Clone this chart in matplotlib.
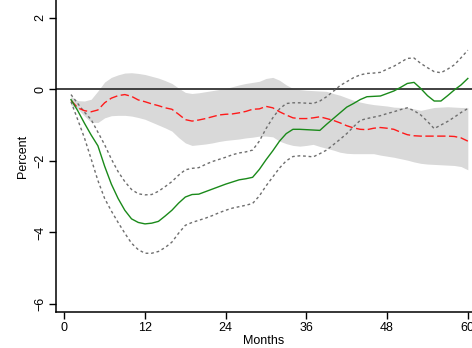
import numpy as np
import matplotlib
matplotlib.use("Agg")
import matplotlib.pyplot as plt

plt.rcParams['font.family'] = ['Liberation Sans', 'DejaVu Sans']

# horizon in months
months = np.arange(1, 61)

# grey band (bounds around the red response)
band_hi = [-0.20, -0.32, -0.33, -0.28, -0.05, 0.20, 0.33, 0.40, 0.45, 0.46,
           0.44, 0.41, 0.36, 0.31, 0.24, 0.16, 0.03, -0.09, -0.12, -0.10,
           -0.07, -0.04, -0.01, 0.02, 0.07, 0.12, 0.16, 0.19, 0.22, 0.30,
           0.33, 0.25, 0.12, 0.02, -0.01, -0.03, -0.04, -0.05, -0.06, -0.12,
           -0.17, -0.24, -0.31, -0.36, -0.40, -0.43, -0.45, -0.47, -0.50, -0.51,
           -0.51, -0.55, -0.59, -0.55, -0.51, -0.50, -0.49, -0.50, -0.51, -0.51]
band_lo = [-0.45, -0.55, -0.75, -0.92, -0.93, -0.80, -0.74, -0.73, -0.73, -0.75,
           -0.79, -0.84, -0.92, -1.00, -1.08, -1.17, -1.35, -1.50, -1.57, -1.55,
           -1.53, -1.50, -1.46, -1.43, -1.41, -1.39, -1.36, -1.34, -1.31, -1.31,
           -1.33, -1.45, -1.52, -1.57, -1.59, -1.57, -1.54, -1.60, -1.65, -1.70,
           -1.76, -1.79, -1.80, -1.80, -1.80, -1.80, -1.84, -1.87, -1.90, -1.94,
           -1.98, -2.03, -2.07, -2.09, -2.10, -2.11, -2.12, -2.13, -2.16, -2.25]

# red dashed response
red = [-0.31, -0.52, -0.60, -0.63, -0.58, -0.38, -0.25, -0.18, -0.15, -0.20,
       -0.30, -0.35, -0.41, -0.46, -0.52, -0.56, -0.70, -0.85, -0.89, -0.86,
       -0.82, -0.77, -0.72, -0.70, -0.69, -0.66, -0.62, -0.56, -0.55, -0.48,
       -0.52, -0.63, -0.72, -0.80, -0.82, -0.82, -0.80, -0.77, -0.82, -0.87,
       -0.94, -1.02, -1.08, -1.12, -1.13, -1.09, -1.07, -1.09, -1.12, -1.20,
       -1.27, -1.30, -1.31, -1.31, -1.31, -1.31, -1.31, -1.32, -1.36, -1.45]

# green response with its dotted bounds
green = [-0.29, -0.60, -0.95, -1.28, -1.58, -2.15, -2.65, -3.05, -3.38, -3.62,
         -3.72, -3.76, -3.74, -3.69, -3.54, -3.38, -3.18, -3.01, -2.94, -2.93,
         -2.86, -2.79, -2.72, -2.65, -2.59, -2.53, -2.50, -2.46, -2.24, -1.97,
         -1.72, -1.45, -1.24, -1.12, -1.12, -1.13, -1.14, -1.15, -0.98, -0.82,
         -0.66, -0.50, -0.40, -0.29, -0.21, -0.20, -0.19, -0.12, -0.05, 0.05,
         0.16, 0.19, 0.02, -0.18, -0.33, -0.33, -0.18, -0.02, 0.12, 0.30]
green_hi = [-0.15, -0.40, -0.64, -0.85, -1.20, -1.55, -1.95, -2.30, -2.58, -2.80,
            -2.92, -2.95, -2.94, -2.85, -2.72, -2.58, -2.40, -2.25, -2.21, -2.19,
            -2.10, -2.02, -1.96, -1.90, -1.83, -1.78, -1.75, -1.70, -1.45, -1.10,
            -0.80, -0.55, -0.40, -0.38, -0.38, -0.39, -0.40, -0.33, -0.21, -0.06,
            0.10, 0.21, 0.32, 0.40, 0.44, 0.45, 0.47, 0.56, 0.64, 0.75,
            0.86, 0.87, 0.72, 0.60, 0.49, 0.46, 0.56, 0.68, 0.88, 1.09]
green_lo = [-0.35, -0.85, -1.36, -1.95, -2.55, -3.05, -3.40, -3.72, -4.02, -4.30,
            -4.48, -4.58, -4.58, -4.53, -4.42, -4.27, -4.02, -3.80, -3.72, -3.66,
            -3.60, -3.53, -3.45, -3.38, -3.32, -3.28, -3.24, -3.19, -2.98, -2.70,
            -2.45, -2.20, -2.00, -1.88, -1.86, -1.87, -1.89, -1.80, -1.70, -1.55,
            -1.40, -1.24, -1.05, -0.87, -0.82, -0.78, -0.74, -0.68, -0.63, -0.57,
            -0.52, -0.60, -0.72, -0.90, -1.10, -1.00, -0.90, -0.78, -0.65, -0.54]

xticks = [0, 12, 24, 36, 48, 60]
yticks = [-6, -4, -2, 0, 2]

fig = plt.figure(figsize=(4.72, 3.48), dpi=100)
ax = fig.add_axes([56/472, 36/348, 416/472, 312/348])

ax.fill_between(months, band_lo, band_hi, color='#d9d9d9', lw=0)
ax.axhline(0, color='#333333', lw=1.3)
ax.plot(months, green_hi, color='#6e6e6e', lw=1.0, dashes=(2, 2))
ax.plot(months, green_lo, color='#6e6e6e', lw=1.0, dashes=(2, 2))
ax.plot(months, red, color='#ff1a1a', lw=1.0, dashes=(6, 2.5))
ax.plot(months, green, color='#1a8a1a', lw=1.0)

ax.set_xlim(-1.23, 60.62)
ax.set_ylim(-6.22, 2.49)
ax.set_xticks(xticks)
ax.set_yticks(yticks)
ax.set_yticklabels([f"{t}".replace('-', '\u2212') for t in yticks],
                   rotation=90, va='center')
ax.tick_params(direction='out', length=5, width=1, labelsize=9, pad=2)
ax.set_xlabel('Months', fontsize=9, labelpad=1)
ax.set_ylabel('Percent', fontsize=9, labelpad=4)
for s in ['top', 'right']:
    ax.spines[s].set_visible(False)
for s in ['left', 'bottom']:
    ax.spines[s].set_linewidth(1.1)

fig.savefig('out.png', dpi=100)
